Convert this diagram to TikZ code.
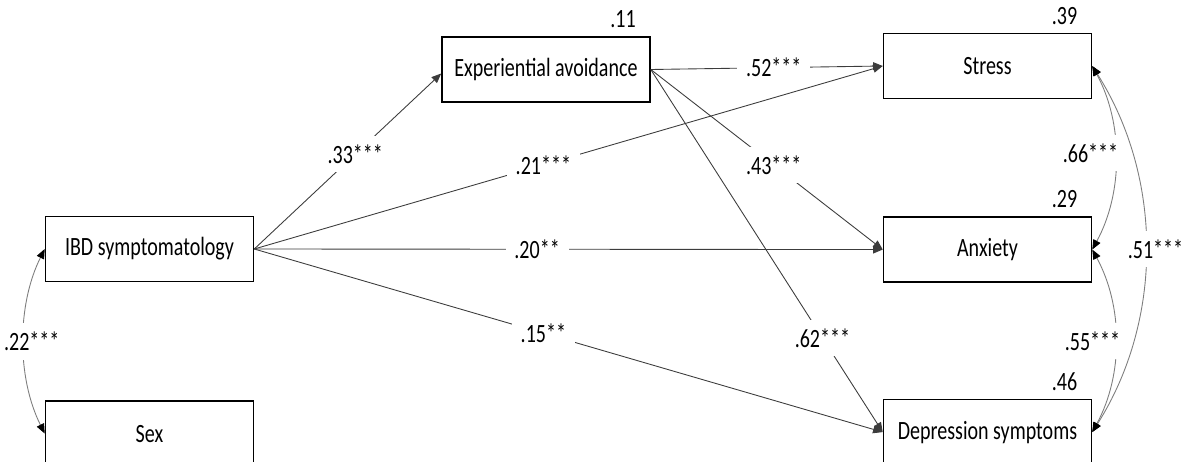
\documentclass[tikz,border=0pt]{standalone}
\usepackage{fontspec}
\setmainfont{Carlito}[FakeStretch=0.76]
\usepackage{tikz}
\usetikzlibrary{arrows.meta, positioning, calc}
\definecolor{pathgray}{RGB}{60, 60, 60}
\definecolor{covgray}{RGB}{125, 125, 125}

\begin{document}
\begin{tikzpicture}[x=0.02cm, y=0.02cm, font=\fontsize{15}{17}\selectfont,
  var/.style={draw, line width=0.9pt, minimum width=4.16cm, minimum height=1.3cm, inner sep=0pt},
  reg/.style={draw=pathgray, line width=0.5pt, -{Triangle[length=5.5pt, width=4.5pt]}},
  cov/.style={draw=covgray, line width=0.5pt, {Triangle[length=5.5pt, width=4.5pt, color=black]}-{Triangle[length=5.5pt, width=4.5pt, color=black]}},
  coef/.style={fill=white, inner sep=5pt},
  rsq/.style={anchor=south east, inner sep=1pt, xshift=-0.26cm, yshift=0.12cm}]
  \useasboundingbox (0,0) rectangle (1188,461);

  \node[var] (ibd) at (149.5,212) {IBD symptomatology};
  \node[var, below=2.36cm of ibd] (sex) {Sex};
  \node[var] (ea) at (546,391.5) {Experiential avoidance};
  \node[var] (st) at (987.5,395) {Stress};
  \node[var, below=2.34cm of st] (an) {Anxiety};
  \node[var, below=2.32cm of an] (dep) {Depression symptoms};

  \node[rsq] at (ea.north east) {.11};
  \node[rsq] at (st.north east) {.39};
  \node[rsq] at (an.north east) {.29};
  \node[rsq] at (dep.north east) {.46};

  \draw[reg] (ibd.east) -- node[coef, pos=.54] {.33***} ([yshift=-0.08cm]ea.west);
  \draw[reg] (ibd.east) -- node[coef, pos=.46] {.21***} (st.west);
  \draw[reg] (ibd.east) -- node[coef, pos=.45] {.20**} (an.west);
  \draw[reg] (ibd.east) -- node[coef, pos=.46] {.15**} (dep.west);
  \draw[reg] (ea.east) -- node[coef, pos=.53] {.52***} (st.west);
  \draw[reg] (ea.east) -- node[coef, pos=.53] {.43***} (an.west);
  \draw[reg] (ea.east) -- node[coef, pos=.74] {.62***} (dep.west);

  \draw[cov] (ibd.west) .. controls +(-28,-56) and +(-28,56) .. node[coef, pos=.5, xshift=0.16cm] {.22***} (sex.west);
  \draw[cov] (st.east) .. controls +(31,-57) and +(31,57) .. node[coef, pos=.5, xshift=-0.5cm, yshift=0.1cm] {.66***} (an.east);
  \draw[cov] (an.east) .. controls +(31,-57) and +(31,57) .. node[coef, pos=.5, xshift=-0.46cm] {.55***} (dep.east);
  \draw[cov] (st.east) .. controls +(71,-112) and +(71,112) .. node[coef, pos=.5, xshift=0.2cm] {.51***} (dep.east);
\end{tikzpicture}
\end{document}
